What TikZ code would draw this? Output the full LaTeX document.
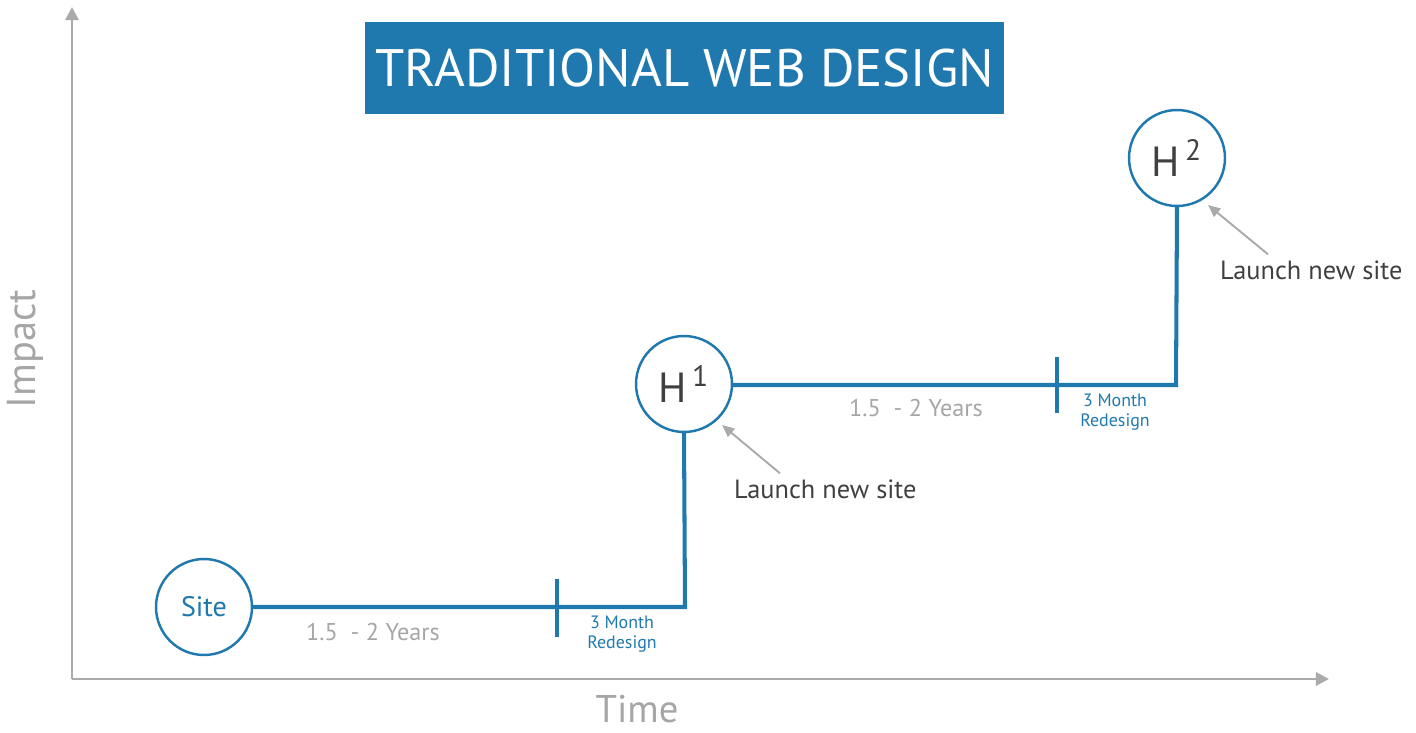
\documentclass[tikz,border=0pt]{standalone}
\usepackage{fontspec}
\setmainfont{PT Sans}
\usetikzlibrary{arrows.meta}

\definecolor{webblue}{RGB}{32,121,174}
\definecolor{axisgray}{RGB}{170,170,170}
\definecolor{labelgray}{RGB}{166,166,166}
\definecolor{textdark}{RGB}{64,64,64}

\begin{document}
\begin{tikzpicture}[
	x=0.02cm, y=-0.02cm,
	axis/.style={
		draw=axisgray,
		line width=1.7pt,
		-{Triangle[length=7.5pt,width=7.5pt]}
	},
	milestone/.style={
		circle,
		draw=webblue,
		line width=1.4pt,
		fill=white,
		minimum size=1.92cm,
		inner sep=0pt
	},
	track/.style={
		draw=webblue,
		line width=2.3pt
	},
	pointer/.style={
		draw=axisgray,
		line width=1.1pt,
		-{Triangle[length=7pt,width=6pt]}
	},
	years/.style={
		text=labelgray,
		font=\fontsize{13.8}{16}\selectfont
	},
	redesign/.style={
		text=webblue,
		align=center,
		font=\fontsize{10.2}{11.3}\selectfont
	},
	launch/.style={
		text=textdark,
		anchor=west,
		font=\fontsize{15}{18}\selectfont
	},
]

\useasboundingbox (0,0) rectangle (1416,733);

% axes
\coordinate (origin) at (72,679);
\coordinate (ytop) at (72,7);
\coordinate (xend) at (1329,679);
\draw[axis] (origin) -- (ytop);
\draw[axis] (origin) -- (xend);
\node[text=labelgray, rotate=90, font=\fontsize{23}{26}\selectfont] (impact) at (25,349) {Impact};
\node[text=labelgray, font=\fontsize{22}{26}\selectfont, inner sep=0pt] (time) at (637,709) {Time};

% title
\node[fill=webblue, text=white, minimum width=12.78cm, minimum height=1.84cm,
	font=\fontsize{30}{36}\selectfont] (title) at (684.5,68) {TRADITIONAL WEB DESIGN};

% milestones
\node[milestone, text=webblue, font=\fontsize{16}{20}\selectfont] (site) at (204,607) {Site};
\node[milestone, text=textdark, font=\fontsize{24}{30}\selectfont] (h1) at (684,384) {H\textsuperscript{\,1}};
\node[milestone, text=textdark, font=\fontsize{24}{30}\selectfont] (h2) at (1177,158) {H\textsuperscript{\,2}};

\coordinate (corner1) at (685,607);
\coordinate (corner2) at (1176,385);
\coordinate (tick1) at (557,607);
\coordinate (tick2) at (1057,385);

\draw[track] (site.east) -- (corner1) -- (h1.south);
\draw[track] (h1.east |- corner2) -- (corner2) -- (h2.south);
\draw[track] ([yshift=16]tick1) -- ([yshift=-17]tick1);
\draw[track] ([yshift=16]tick2) -- ([yshift=-16]tick2);

% labels
\node[years] (years1) at (373,632) {1.5\ \ - 2 Years};
\node[years] (years2) at (916,408) {1.5\ \ - 2 Years};
\node[redesign] (redesign1) at (622,634) {3 Month\\Redesign};
\node[redesign] (redesign2) at (1115,412) {3 Month\\Redesign};

\node[launch] (launch1) at (728,489) {Launch new site};
\node[launch] (launch2) at (1214,270) {Launch new site};
\draw[pointer] (launch1.north west) ++(52,0) coordinate (from1) -- (722,425);
\draw[pointer] (launch2.north west) ++(54,0) coordinate (from2) -- (1208,205);

\end{tikzpicture}
\end{document}
